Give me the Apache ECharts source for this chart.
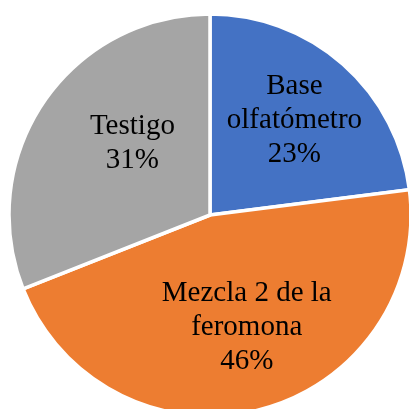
<!DOCTYPE html>
<html>
<head>
<meta charset="utf-8">
<script src="https://cdn.jsdelivr.net/npm/echarts@6/dist/echarts.min.js"></script>
<style>
  html, body { margin: 0; padding: 0; background: #fff; }
  #chart { width: 409px; height: 409px; }
</style>
</head>
<body>
<div id="chart"></div>
<script>
// datos del gráfico
var categorias = ['Base\nolfatómetro', 'Mezcla 2 de la\nferomona', 'Testigo'];
var valores = [23, 46, 31];
var colores = ['#4472C4', '#ED7D31', '#A5A5A5'];
// desplazamiento de cada etiqueta respecto a la posición "inside"
var desplaz = [[16, -17], [11, 12], [8, -13]];

var chart = echarts.init(document.getElementById('chart'));

var datos = categorias.map(function (c, i) {
    return {
        name: c,
        value: valores[i],
        itemStyle: { color: colores[i] },
        label: { offset: desplaz[i] }
    };
});

var option = {
    animation: false,
    series: [{
        type: 'pie',
        center: [210, 215],
        radius: [0, 201],
        startAngle: 90,
        clockwise: true,
        itemStyle: {
            borderColor: '#fff',
            borderWidth: 3.5
        },
        label: {
            show: true,
            position: 'inside',
            color: '#000',
            fontFamily: 'Liberation Serif, Times New Roman, serif',
            fontSize: 29,
            lineHeight: 34,
            align: 'center',
            formatter: function (p) {
                return p.name + '\n' + Math.round(p.percent) + '%';
            }
        },
        labelLine: { show: false },
        emphasis: { disabled: true },
        data: datos
    }]
};

chart.setOption(option);
</script>
</body>
</html>
